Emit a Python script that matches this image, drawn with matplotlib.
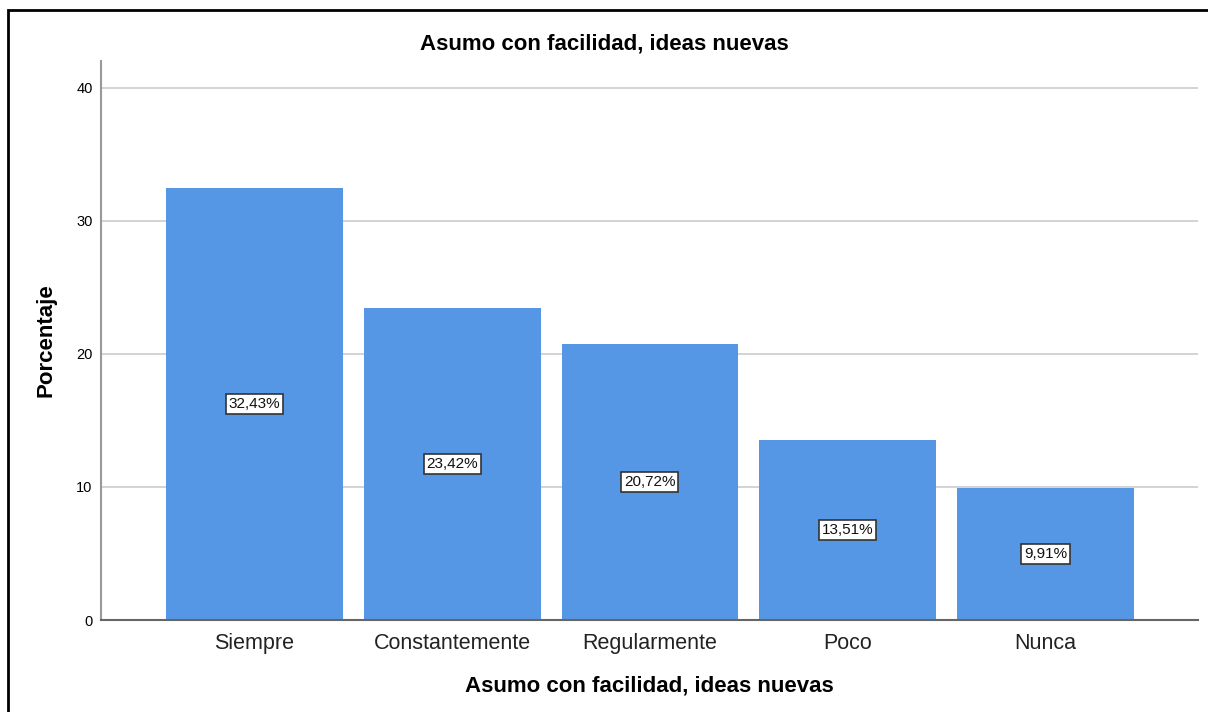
import matplotlib
matplotlib.use("Agg", force=True)
import matplotlib.pyplot as plt
from matplotlib.patches import Rectangle

plt.rcParams['font.family'] = ['Liberation Sans', 'DejaVu Sans']

categories = ["Siempre", "Constantemente", "Regularmente", "Poco", "Nunca"]
percentages = [32.43, 23.42, 20.72, 13.51, 9.91]
y_ticks = [0, 10, 20, 30, 40]
title = "Asumo con facilidad, ideas nuevas"

fig = plt.figure(figsize=(12.08, 7.12), dpi=100)
ax = fig.add_axes([0.0836, 0.1292, 0.9081, 0.7851])

# outer frame like the exported output
fig.patches.append(Rectangle((8 / 1208, -0.05), 1.1, 1 - 10 / 712 + 0.05,
                             transform=fig.transFigure, fill=False,
                             edgecolor='black', linewidth=2.0, zorder=0))

x = list(range(len(categories)))
ax.bar(x, percentages, width=0.894, color='#5596e5', zorder=2)

for xi, v in zip(x, percentages):
    ax.text(xi, v / 2, f"{v:.2f}%".replace('.', ','), ha='center', va='center',
            fontsize=11, color='#111111', zorder=3,
            bbox=dict(boxstyle='square,pad=0.18', facecolor='white',
                      edgecolor='#333333', linewidth=1.2))

ax.set_xlim(-0.775, 4.77)
ax.set_ylim(0, 42)
ax.set_yticks(y_ticks)
ax.set_xticks(x)
ax.set_xticklabels(categories, fontsize=15.5, color='#222222')
ax.tick_params(axis='y', length=0, labelsize=10.5, pad=6)
ax.tick_params(axis='x', length=0, pad=9)
ax.yaxis.grid(True, color='#d0d0d0', linewidth=1.3, zorder=1)
ax.set_axisbelow(True)

for s in ['top', 'right']:
    ax.spines[s].set_visible(False)
ax.spines['left'].set_color('#999999')
ax.spines['left'].set_linewidth(1.5)
ax.spines['bottom'].set_color('#666666')
ax.spines['bottom'].set_linewidth(1.5)

ax.set_ylabel("Porcentaje", fontsize=16, fontweight='bold', labelpad=14)
ax.set_xlabel(title, fontsize=16, fontweight='bold', labelpad=16)
fig.text(0.5, 1 - 44 / 712, title, ha='center', va='center',
         fontsize=16, fontweight='bold')

fig.savefig("out.png", dpi=100)
